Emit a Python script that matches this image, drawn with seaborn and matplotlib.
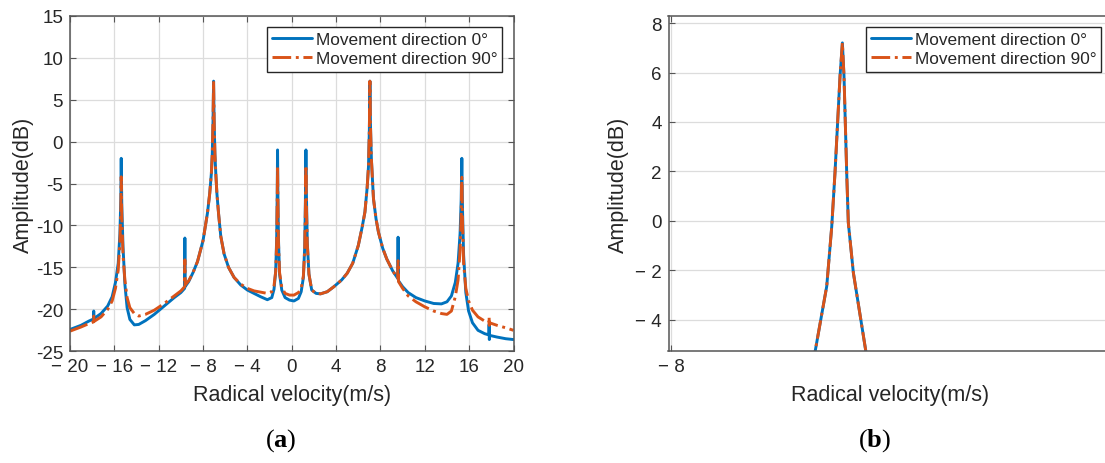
import matplotlib
matplotlib.use("Agg")
import matplotlib.pyplot as plt
import seaborn as sns

# (a) full spectrum: radial velocity (m/s) and amplitude (dB) for both directions
velocity = [
    -20.0, -19.0, -18.3, -17.88, -17.86, -17.84, -17.2, -16.6, -16.2, -15.9,
    -15.65, -15.5, -15.42, -15.38, -15.33, -15.22, -15.05, -14.85, -14.6, -14.2,
    -13.8, -13.2, -12.4, -11.5, -10.6, -10.0, -9.66, -9.64, -9.62, -9.3,
    -8.9, -8.5, -8.0, -7.6, -7.4, -7.25, -7.17, -7.1, -7.05, -7.0,
    -6.93, -6.85, -6.75, -6.6, -6.4, -6.1, -5.7, -5.2, -4.6, -4.0,
    -3.4, -2.8, -2.2, -1.8, -1.6, -1.45, -1.36, -1.31, -1.28, -1.25,
    -1.2, -1.1, -0.9, -0.6, -0.2, 0.2, 0.6, 0.85, 1.05, 1.17,
    1.23, 1.28, 1.32, 1.4, 1.55, 1.8, 2.2, 2.6, 3.2, 3.8,
    4.5, 5.0, 5.5, 6.0, 6.35, 6.6, 6.8, 6.92, 7.0, 7.05,
    7.1, 7.18, 7.37, 7.6, 7.82, 8.2, 8.57, 9.1, 9.55, 9.59,
    9.63, 10.0, 10.5, 11.2, 12.0, 12.8, 13.5, 14.0, 14.4, 14.75,
    15.0, 15.18, 15.28, 15.34, 15.4, 15.5, 15.7, 15.95, 16.3, 16.8,
    17.4, 17.78, 17.8, 17.82, 17.84, 18.5, 19.3, 20.0,
]
amp_0deg = [
    -22.4, -21.9, -21.4, -21.15, -20.2, -21.1, -20.5, -19.6, -18.5, -16.8,
    -14.5, -11.0, -7.0, -2.0, -7.5, -12.5, -17.0, -19.8, -21.2, -21.85,
    -21.8, -21.35, -20.6, -19.6, -18.6, -18.0, -17.5, -11.5, -17.3, -16.7,
    -15.6, -14.3, -11.8, -8.5, -6.2, -3.8, -1.5, 2.5, 7.2, 2.5,
    -1.5, -3.8, -6.2, -8.6, -11.3, -13.4, -15.0, -16.2, -17.1, -17.7,
    -18.1, -18.5, -18.85, -18.6, -17.6, -15.5, -11.5, -6.0, -1.0, -6.0,
    -11.5, -15.8, -17.7, -18.6, -18.9, -19.0, -18.7, -17.9, -16.2, -12.5,
    -7.0, -1.0, -6.0, -12.0, -15.8, -17.7, -18.1, -18.15, -17.9, -17.3,
    -16.5, -15.7, -14.5, -12.4, -10.2, -8.4, -5.5, -3.0, 1.5, 7.2,
    2.0, -2.0, -6.8, -9.2, -10.8, -12.7, -14.0, -15.4, -16.3, -11.4,
    -16.6, -17.3, -18.0, -18.6, -19.0, -19.3, -19.35, -19.1, -18.4, -16.8,
    -14.5, -11.0, -7.0, -2.0, -8.0, -13.5, -18.0, -20.2, -21.6, -22.5,
    -22.9, -23.05, -21.8, -23.6, -23.1, -23.3, -23.5, -23.6,
]
amp_90deg = [
    -22.6, -22.1, -21.7, -21.5, -20.8, -21.45, -20.9, -20.0, -19.0, -17.5,
    -15.3, -12.0, -8.5, -4.2, -9.0, -13.5, -16.5, -18.6, -19.8, -20.5,
    -20.8, -20.6, -20.1, -19.3, -18.4, -17.8, -17.3, -14.1, -17.1, -16.6,
    -15.6, -14.3, -11.8, -8.5, -6.2, -3.8, -1.5, 2.5, 7.2, 2.5,
    -1.5, -3.8, -6.2, -8.6, -11.3, -13.4, -15.0, -16.2, -17.0, -17.5,
    -17.8, -17.95, -18.1, -17.9, -17.2, -15.5, -12.0, -7.0, -2.85, -7.0,
    -12.0, -15.6, -17.4, -18.1, -18.3, -18.3, -18.0, -17.5, -16.0, -12.8,
    -8.0, -2.85, -7.5, -12.2, -15.8, -17.7, -18.1, -18.15, -17.9, -17.3,
    -16.5, -15.7, -14.5, -12.4, -10.2, -8.4, -5.5, -3.0, 1.5, 7.2,
    2.0, -2.0, -6.8, -9.2, -10.8, -12.7, -14.0, -15.4, -16.3, -14.2,
    -16.7, -17.5, -18.4, -19.1, -19.7, -20.2, -20.5, -20.6, -20.2, -18.5,
    -16.5, -13.0, -9.0, -4.25, -9.5, -14.5, -17.5, -19.0, -20.1, -20.9,
    -21.4, -21.6, -20.9, -21.9, -21.6, -21.9, -22.2, -22.5,
]

# (b) close-up of the peak near -7 m/s
zoom_velocity = [-7.217, -7.2, -7.135, -7.107, -7.089, -7.061, -7.048,
                 -7.039, -7.024, -7.015, -6.987, -6.917, -6.902]
zoom_amp_0deg = [-6.0, -5.31, -2.65, -0.22, 1.95, 5.86, 7.2,
                 5.86, 1.95, -0.08, -2.1, -5.31, -6.0]
zoom_amp_90deg = [-6.0, -5.31, -2.65, -0.22, 1.95, 5.86, 7.2,
                  5.86, 1.95, -0.08, -2.1, -5.31, -6.0]

labels = ["Movement direction 0°", "Movement direction 90°"]
xticks_a = [-20, -16, -12, -8, -4, 0, 4, 8, 12, 16, 20]
yticks_a = [15, 10, 5, 0, -5, -10, -15, -20, -25]
xticks_b = [-8]
yticks_b = [8, 6, 4, 2, 0, -2, -4]

blue = "#0072BD"
orange = "#D95319"
dark = "#262626"

sns.set_style("white")
plt.rcParams["font.family"] = ["Liberation Sans", "DejaVu Sans"]
plt.rcParams["mathtext.fontset"] = "custom"
plt.rcParams["mathtext.bf"] = "Liberation Serif:bold"
plt.rcParams["mathtext.rm"] = "Liberation Serif"


def spaced_minus(v):
    return "\u2212 " + str(abs(v)) if v < 0 else str(v)


def style_axes(ax):
    for s in ax.spines.values():
        s.set_color("#555555")
        s.set_linewidth(1.1)
    ax.tick_params(direction="in", length=4, width=0.8, colors="#555555",
                   labelcolor=dark, labelsize=13.5, top=True, right=True,
                   bottom=True, left=True, pad=5)
    ax.grid(True, color="#dcdcdc", linewidth=0.9)
    ax.set_axisbelow(True)


fig = plt.figure(figsize=(11.05, 4.64), dpi=100)
ax1 = fig.add_axes([70 / 1105, (464 - 352.3) / 464, 443.5 / 1105, 335.6 / 464])
ax2 = fig.add_axes([668.5 / 1105, (464 - 352.3) / 464, 444 / 1105, 335.6 / 464])

panels = [
    (ax1, velocity, amp_0deg, amp_90deg),
    (ax2, zoom_velocity, zoom_amp_0deg, zoom_amp_90deg),
]
for ax, vx, a0, a90 in panels:
    sns.lineplot(x=vx, y=a0, ax=ax, color=blue, linewidth=2.1, sort=False,
                 estimator=None, label=labels[0])
    sns.lineplot(x=vx, y=a90, ax=ax, color=orange, linewidth=2.1, sort=False,
                 estimator=None, linestyle="-.", label=labels[1])
    style_axes(ax)
    ax.set_xlabel("Radical velocity(m/s)", fontsize=15.5, color=dark, labelpad=6)
    ax.set_ylabel("Amplitude(dB)", fontsize=15.5, color=dark, labelpad=4)
    leg = ax.legend(loc="upper right", fontsize=12.4, frameon=True, fancybox=False,
                    framealpha=1, edgecolor=dark, handlelength=2.3,
                    handletextpad=0.2, borderpad=0.3, labelspacing=0.25,
                    borderaxespad=0.65)
    leg.get_frame().set_linewidth(1.0)

ax1.set_xticks(xticks_a)
ax1.set_xticklabels([spaced_minus(v) for v in xticks_a])
ax1.set_yticks(yticks_a)
ax1.set_yticklabels([str(v) for v in yticks_a])
ax1.set_xlim(-20, 20)
ax1.set_ylim(-25, 15)
ax1.yaxis.labelpad = 1

ax2.set_xticks(xticks_b)
ax2.set_xticklabels([spaced_minus(v) for v in xticks_b])
ax2.set_yticks(yticks_b)
ax2.set_yticklabels([spaced_minus(v) for v in yticks_b])
ax2.set_xlim(-8.014, -8.014 + 444 / 180)
ax2.set_ylim(-5.28, 8.3)

for xc, letter in [(281, "a"), (875, "b")]:
    fig.text(xc / 1105, 1 - 441 / 464, "(" + r"$\mathbf{" + letter + "}$" + ")",
             ha="center", va="center", fontsize=19, family="Liberation Serif",
             color="black")

fig.savefig("out.png", dpi=100)
